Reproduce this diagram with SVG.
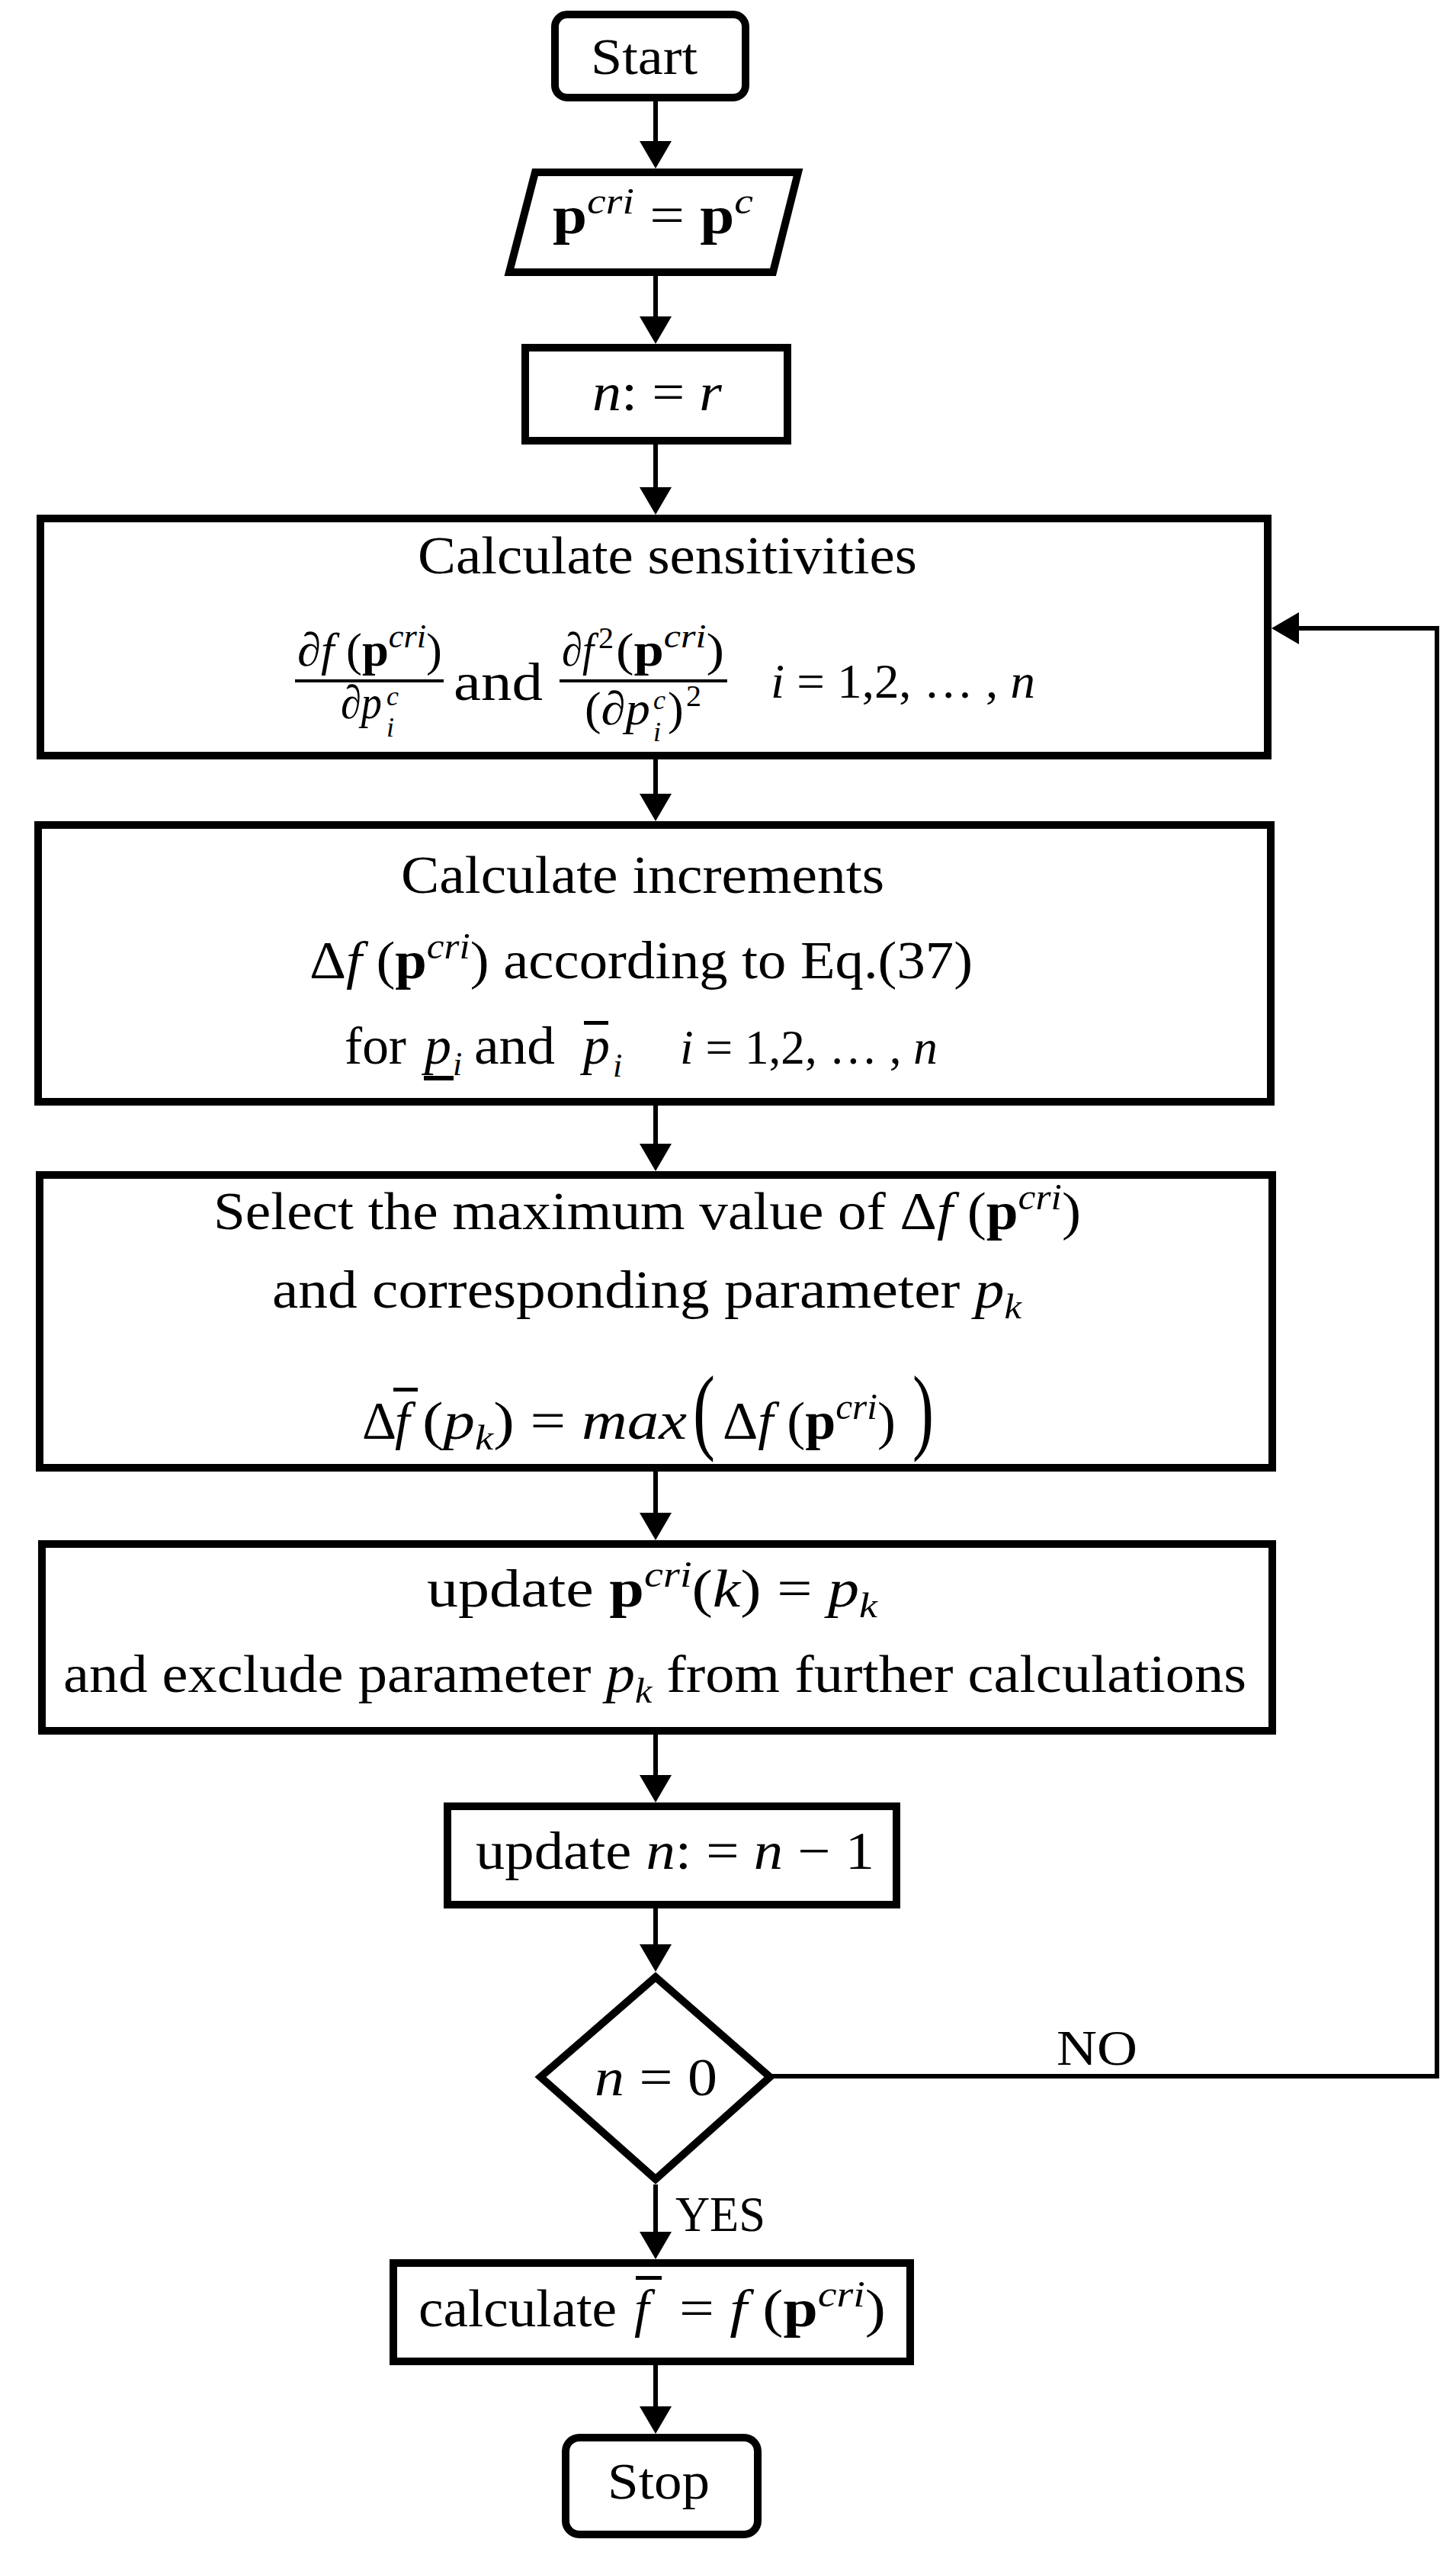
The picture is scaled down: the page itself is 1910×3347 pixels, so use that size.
<svg xmlns="http://www.w3.org/2000/svg" width="1910" height="3347" viewBox="0 0 1910 3347" style="font-family:'Liberation Serif','Times New Roman',serif;font-size:70px">
<defs>
<style>
.box{fill:#fff;stroke:#000;stroke-width:10}
.edge{fill:none;stroke:#000;stroke-width:6}
.bar{stroke:#000;stroke-width:4}
text{fill:#000}
.i{font-style:italic}
.b{font-weight:bold}
</style>
<marker id="ah" markerUnits="userSpaceOnUse" markerWidth="36" markerHeight="42" refX="1" refY="21" orient="auto">
<path d="M0,0 L36,21 L0,42 z" fill="#000"/>
</marker>
</defs>
<rect width="1910" height="3347" fill="#fff"/>

<g id="connectors">
<path class="edge" marker-end="url(#ah)" d="M860,133 V186"/>
<path class="edge" marker-end="url(#ah)" d="M860,362 V416"/>
<path class="edge" marker-end="url(#ah)" d="M860,583 V640"/>
<path class="edge" marker-end="url(#ah)" d="M860,996 V1042"/>
<path class="edge" marker-end="url(#ah)" d="M860,1450 V1501"/>
<path class="edge" marker-end="url(#ah)" d="M860,1930 V1985"/>
<path class="edge" marker-end="url(#ah)" d="M860,2275 V2329"/>
<path class="edge" marker-end="url(#ah)" d="M860,2503 V2551"/>
<path class="edge" marker-end="url(#ah)" d="M860,2865 V2928"/>
<path class="edge" marker-end="url(#ah)" d="M860,3102 V3157"/>
<path class="edge" marker-end="url(#ah)" d="M1012,2723 H1885 V824 H1703"/>
<text x="1386" y="2708" font-size="66" textLength="106" lengthAdjust="spacingAndGlyphs">NO</text>
<text x="886" y="2926" font-size="66" textLength="118" lengthAdjust="spacingAndGlyphs">YES</text>
</g>

<g id="start">
<rect class="box" x="728" y="19" width="250" height="109" rx="16"/>
<text x="775" y="97" font-size="68" textLength="140" lengthAdjust="spacingAndGlyphs">Start</text>
</g>

<g id="input">
<polygon class="box" points="702,226 1047,226 1014,357 668,357"/>
<text x="725" y="306" textLength="263" lengthAdjust="spacingAndGlyphs"><tspan class="b">p</tspan><tspan class="i" font-size="48" dy="-26">cri</tspan><tspan dy="26"> = </tspan><tspan class="b">p</tspan><tspan class="i" font-size="48" dy="-26">c</tspan></text>
</g>

<g id="init">
<rect class="box" x="689" y="456" width="344" height="122"/>
<text x="777" y="538" textLength="170" lengthAdjust="spacingAndGlyphs"><tspan class="i">n</tspan>: = <tspan class="i">r</tspan></text>
</g>

<g id="sensitivities">
<rect class="box" x="53" y="680" width="1610" height="311"/>
<text x="548" y="752" textLength="655" lengthAdjust="spacingAndGlyphs">Calculate sensitivities</text>
<text x="390" y="873" font-size="62" textLength="190" lengthAdjust="spacingAndGlyphs"><tspan class="i">∂f</tspan> (<tspan class="b">p</tspan><tspan class="i" font-size="44" dy="-24">cri</tspan><tspan dy="24">)</tspan></text>
<line class="bar" x1="387" y1="893" x2="582" y2="893"/>
<text x="447" y="942" font-size="62" class="i" textLength="54" lengthAdjust="spacingAndGlyphs">∂p</text>
<text x="507" y="925" font-size="36" class="i">c</text>
<text x="507" y="966" font-size="36" class="i">i</text>
<text x="595" y="918" textLength="117" lengthAdjust="spacingAndGlyphs">and</text>
<text x="737" y="873" font-size="62" class="i" textLength="42" lengthAdjust="spacingAndGlyphs">∂f</text>
<text x="785" y="850" font-size="40">2</text>
<text x="808" y="873" font-size="62" textLength="142" lengthAdjust="spacingAndGlyphs">(<tspan class="b">p</tspan><tspan class="i" font-size="44" dy="-24">cri</tspan><tspan dy="24">)</tspan></text>
<line class="bar" x1="734" y1="893" x2="954" y2="893"/>
<text x="767" y="950" font-size="62" textLength="86" lengthAdjust="spacingAndGlyphs">(<tspan class="i">∂p</tspan></text>
<text x="857" y="930" font-size="36" class="i">c</text>
<text x="857" y="972" font-size="36" class="i">i</text>
<text x="876" y="950" font-size="62">)</text>
<text x="900" y="926" font-size="40">2</text>
<text x="1011" y="915" font-size="64" textLength="347" lengthAdjust="spacingAndGlyphs"><tspan class="i">i</tspan> = 1,2, … , <tspan class="i">n</tspan></text>
</g>

<g id="increments">
<rect class="box" x="50" y="1082" width="1617" height="363"/>
<text x="526" y="1171" textLength="634" lengthAdjust="spacingAndGlyphs">Calculate increments</text>
<text x="406" y="1283" textLength="870" lengthAdjust="spacingAndGlyphs">Δ<tspan class="i">f</tspan> (<tspan class="b">p</tspan><tspan class="i" font-size="48" dy="-26">cri</tspan><tspan dy="26">) according to Eq.(37)</tspan></text>
<text x="452" y="1395" textLength="81" lengthAdjust="spacingAndGlyphs">for</text>
<text x="557" y="1395" class="i">p</text>
<text x="594" y="1410" class="i" font-size="44">i</text>
<rect x="556" y="1411" width="39" height="6" fill="#000"/>
<text x="622" y="1395" textLength="106" lengthAdjust="spacingAndGlyphs">and</text>
<text x="765" y="1395" class="i">p</text>
<rect x="766" y="1339" width="32" height="5" fill="#000"/>
<text x="804" y="1412" class="i" font-size="44">i</text>
<text x="892" y="1395" font-size="64" textLength="338" lengthAdjust="spacingAndGlyphs"><tspan class="i">i</tspan> = 1,2, … , <tspan class="i">n</tspan></text>
</g>

<g id="select">
<rect class="box" x="52" y="1541" width="1617" height="384"/>
<text x="280" y="1612" textLength="1138" lengthAdjust="spacingAndGlyphs">Select the maximum value of Δ<tspan class="i">f</tspan> (<tspan class="b">p</tspan><tspan class="i" font-size="48" dy="-26">cri</tspan><tspan dy="26">)</tspan></text>
<text x="357" y="1715" textLength="983" lengthAdjust="spacingAndGlyphs">and corresponding parameter <tspan class="i">p</tspan><tspan class="i" font-size="46" dy="14">k</tspan></text>
<text x="475" y="1887">Δ</text>
<text x="518" y="1887" class="i">f</text>
<rect x="516" y="1820" width="32" height="5" fill="#000"/>
<text x="554" y="1887" textLength="347" lengthAdjust="spacingAndGlyphs">(<tspan class="i">p</tspan><tspan class="i" font-size="46" dy="14">k</tspan><tspan dy="-14">) = </tspan><tspan class="i">max</tspan></text>
<text x="909" y="1891" font-size="124" textLength="29" lengthAdjust="spacingAndGlyphs">(</text>
<text x="948" y="1887" textLength="227" lengthAdjust="spacingAndGlyphs">Δ<tspan class="i">f</tspan> (<tspan class="b">p</tspan><tspan class="i" font-size="48" dy="-26">cri</tspan><tspan dy="26">)</tspan></text>
<text x="1197" y="1891" font-size="124" textLength="28" lengthAdjust="spacingAndGlyphs">)</text>
</g>

<g id="update">
<rect class="box" x="55" y="2025" width="1614" height="245"/>
<text x="560" y="2107" textLength="591" lengthAdjust="spacingAndGlyphs">update <tspan class="b">p</tspan><tspan class="i" font-size="48" dy="-26">cri</tspan><tspan dy="26">(</tspan><tspan class="i">k</tspan>) = <tspan class="i">p</tspan><tspan class="i" font-size="46" dy="14">k</tspan></text>
<text x="83" y="2219" textLength="1552" lengthAdjust="spacingAndGlyphs">and exclude parameter <tspan class="i">p</tspan><tspan class="i" font-size="46" dy="14">k</tspan><tspan dy="-14"> from further calculations</tspan></text>
</g>

<g id="decrement">
<rect class="box" x="587" y="2369" width="589" height="129"/>
<text x="624" y="2451" textLength="523" lengthAdjust="spacingAndGlyphs">update <tspan class="i">n</tspan>: = <tspan class="i">n</tspan> − 1</text>
</g>

<g id="decision">
<polygon class="box" points="860,2593 1010,2724 860,2858 709,2724"/>
<text x="780" y="2748" textLength="161" lengthAdjust="spacingAndGlyphs"><tspan class="i">n</tspan> = 0</text>
</g>

<g id="result">
<rect class="box" x="516" y="2968" width="678" height="129"/>
<text x="549" y="3051" textLength="260" lengthAdjust="spacingAndGlyphs">calculate</text>
<text x="832" y="3051" class="i">f</text>
<rect x="834" y="2985" width="34" height="5" fill="#000"/>
<text x="891" y="3051" textLength="271" lengthAdjust="spacingAndGlyphs">= <tspan class="i">f</tspan> (<tspan class="b">p</tspan><tspan class="i" font-size="48" dy="-26">cri</tspan><tspan dy="26">)</tspan></text>
</g>

<g id="stop">
<rect class="box" x="742" y="3197" width="252" height="127" rx="18"/>
<text x="797" y="3277" font-size="68" textLength="134" lengthAdjust="spacingAndGlyphs">Stop</text>
</g>
</svg>
